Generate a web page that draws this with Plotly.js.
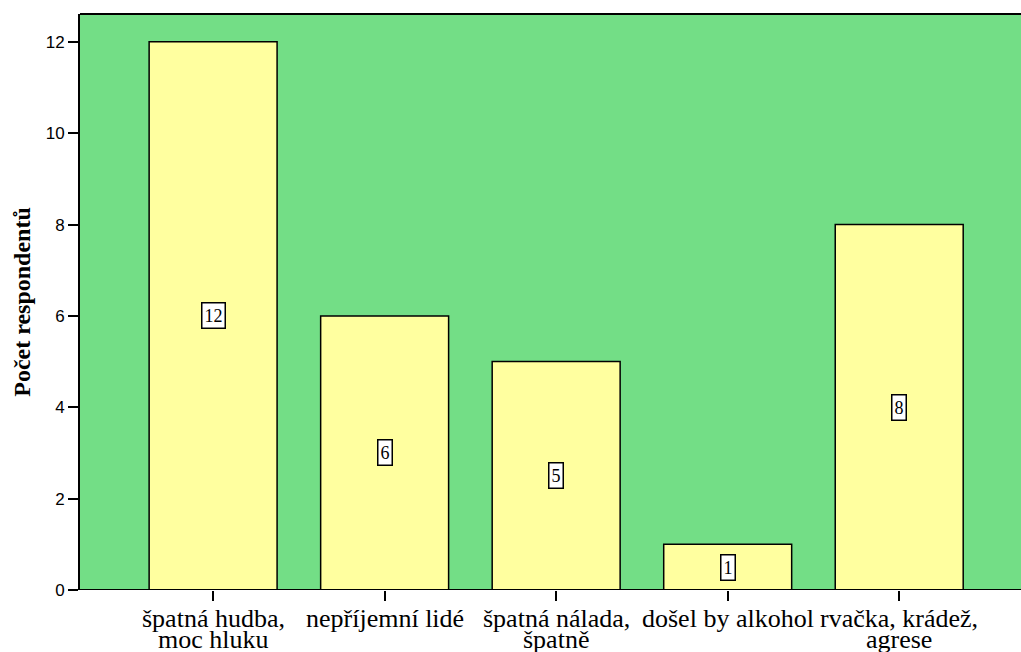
<!DOCTYPE html>
<html>
<head>
<meta charset="utf-8">
<script src="https://cdn.plot.ly/plotly-3.0.1.min.js"></script>
<style>html,body{margin:0;padding:0;background:#fff;overflow:hidden}</style>
</head>
<body>
<div id="chart" style="width:1021px;height:652px"></div>
<script>
const categories = ["špatná hudba,<br>moc hluku", "nepříjemní lidé", "špatná nálada,<br>špatně", "došel by alkohol", "rvačka, krádež,<br>agrese"];
const counts = [12, 6, 5, 1, 8];
const yTicks = [0, 2, 4, 6, 8, 10, 12];

const SERIF = 'Liberation Serif';
const idx = categories.map((c, i) => i);

const trace = {
  type: 'bar',
  x: idx,
  y: counts,
  width: 0.746,
  marker: {color: '#FFFF9F', line: {color: '#000', width: 1.5}},
  hoverinfo: 'none'
};

const annotations = counts.map((v, i) => ({
  x: i, y: v / 2, xref: 'x', yref: 'y',
  text: String(v), showarrow: false,
  font: {family: SERIF, size: 18, color: '#000'},
  bgcolor: '#fff', bordercolor: '#000', borderwidth: 1.5, borderpad: 2
}));

// category labels, one annotation per text line (tight line spacing as in the reference)
categories.forEach((c, i) => {
  c.split('<br>').forEach((line, j) => {
    annotations.push({
      x: i, xref: 'x', y: 0, yref: 'paper', yanchor: 'middle',
      yshift: -28 - 21 * j,
      text: line, showarrow: false,
      font: {family: SERIF, size: 26, color: '#000'}
    });
  });
});

const layout = {
  width: 1021, height: 652,
  margin: {l: 80, r: 0, t: 14, b: 62},
  paper_bgcolor: '#fff',
  plot_bgcolor: '#73DE86',
  showlegend: false,
  xaxis: {
    range: [-0.776, 4.71],
    tickvals: idx,
    showticklabels: false,
    ticks: 'outside', ticklen: 10, tickwidth: 2, tickcolor: '#000',
    showgrid: false, zeroline: false,
    showline: false
  },
  yaxis: {
    range: [0, 12.61],
    tickvals: yTicks,
    ticks: 'outside', ticklen: 10, tickwidth: 2, tickcolor: '#000',
    showgrid: false, zeroline: false,
    showline: true, linecolor: '#000', linewidth: 2, mirror: false,
    tickfont: {family: 'Liberation Sans', size: 17, color: '#000'},
    title: {text: 'Počet respondentů', standoff: 8,
      font: {family: SERIF, size: 24, color: '#000', weight: 'bold'}}
  },
  shapes: [
    {type: 'line', xref: 'paper', yref: 'paper', x0: 0, x1: 1, y0: 1, y1: 1, line: {color: '#000', width: 2}},
    {type: 'line', xref: 'paper', yref: 'y', x0: 0, x1: 1, y0: 0, y1: 0, line: {color: '#000', width: 2}}
  ],
  annotations: annotations
};

Plotly.newPlot('chart', [trace], layout, {displayModeBar: false, staticPlot: true});
</script>
</body>
</html>
